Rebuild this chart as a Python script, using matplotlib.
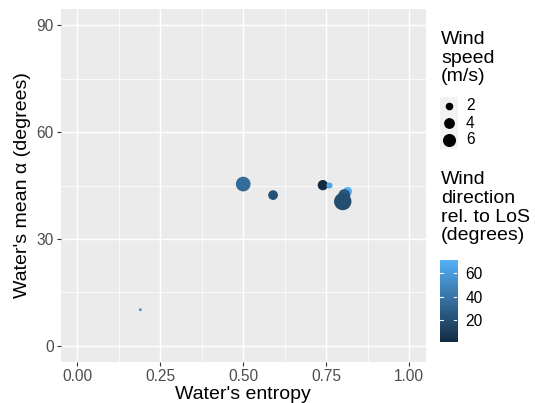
import numpy as np
import matplotlib.pyplot as plt
from matplotlib.colors import LinearSegmentedColormap, Normalize
from matplotlib.patches import Rectangle

plt.rcParams['font.family'] = ['Liberation Sans', 'DejaVu Sans']

# water entropy vs. mean alpha, one point per scene
entropy = [0.50, 0.59, 0.74, 0.76, 0.815, 0.805, 0.80, 0.19]
mean_alpha = [45.4, 42.3, 45.1, 45.0, 43.4, 42.3, 40.5, 10.1]
wind_speed = [7.8, 3.2, 3.6, 1.4, 2.6, 5.0, 11.3, 0.9]
wind_dir = [35, 22, 1.5, 65, 71, 25, 19, 55]

size_breaks = [2, 4, 6]
dir_breaks = [20, 40, 60]

W, H, DPI = 535, 403, 100
cmap = LinearSegmentedColormap.from_list('gg', ['#132B43', '#56B1F7'])
norm = Normalize(min(wind_dir), max(wind_dir))

smin, smax = min(wind_speed), max(wind_speed)


def marker_area(s):
    # ggplot-style area scale: size 1..6 on sqrt of rescaled speed
    s = np.asarray(s, dtype=float)
    size = 1 + 5 * np.sqrt((s - smin) / (smax - smin))
    d_px = 2.9 * size
    return (d_px * 72 / DPI) ** 2


fig = plt.figure(figsize=(W / DPI, H / DPI), dpi=DPI)
ax = fig.add_axes([60.7 / W, 1 - 361.7 / H, 365 / W, 352.4 / H])
ax.set_facecolor('#EBEBEB')
for sp in ax.spines.values():
    sp.set_visible(False)

ax.set_xlim(-0.05, 1.05)
ax.set_ylim(-4.5, 94.5)
ax.set_xticks([0, 0.25, 0.5, 0.75, 1.0])
ax.set_xticklabels(['0.00', '0.25', '0.50', '0.75', '1.00'])
ax.set_yticks([0, 30, 60, 90])
ax.set_xticks([0.125, 0.375, 0.625, 0.875], minor=True)
ax.set_yticks([15, 45, 75], minor=True)
ax.grid(which='major', color='white', linewidth=1.07)
ax.grid(which='minor', color='white', linewidth=0.53)
ax.set_axisbelow(True)
ax.tick_params(which='major', length=3, width=0.8, color='#333333',
               labelsize=11.2, labelcolor='#4D4D4D', pad=2)
ax.tick_params(which='minor', length=0)

ax.scatter(entropy, mean_alpha, s=marker_area(wind_speed), c=wind_dir,
           cmap=cmap, norm=norm, linewidths=0, zorder=3)

ax.set_xlabel("Water's entropy", fontsize=14, labelpad=2)
ax.set_ylabel("Water's mean α (degrees)", fontsize=14, labelpad=4)

# size legend
fig.text(441 / W, 1 - 31 / H, 'Wind\nspeed\n(m/s)', fontsize=14,
         va='top', ha='left', linespacing=1.12)
lg = fig.add_axes([0, 0, 1, 1], facecolor='none')
lg.set_xlim(0, W)
lg.set_ylim(H, 0)
lg.axis('off')
key_y = [106, 123, 140]
for yk, b in zip(key_y, size_breaks):
    lg.add_patch(Rectangle((440.3, yk - 8.6), 17.3, 17.3,
                           facecolor='#F2F2F2', edgecolor='none'))
    lg.scatter([449], [yk], s=marker_area(b), color='black', linewidths=0)
    lg.text(466, yk, str(b), fontsize=11.2, va='center', ha='left',
            color='black')

# colour bar
fig.text(441 / W, 1 - 171 / H, 'Wind\ndirection\nrel. to LoS\n(degrees)',
         fontsize=14, va='top', ha='left', linespacing=1.14)
cax = fig.add_axes([440 / W, 1 - 342 / H, 17.3 / W, 82 / H])
grad = np.linspace(norm.vmin, norm.vmax, 256).reshape(-1, 1)
cax.imshow(grad, aspect='auto', origin='lower', cmap=cmap, norm=norm,
           extent=(0, 1, norm.vmin, norm.vmax))
cax.set_xticks([])
cax.set_yticks(dir_breaks)
cax.yaxis.tick_right()
for yv in dir_breaks:
    cax.plot([0, 0.2], [yv, yv], color='white', lw=0.8)
    cax.plot([0.8, 1], [yv, yv], color='white', lw=0.8)
cax.tick_params(length=0, labelsize=11.2, pad=6)
for sp in cax.spines.values():
    sp.set_visible(False)

fig.savefig('out.png', dpi=DPI)
